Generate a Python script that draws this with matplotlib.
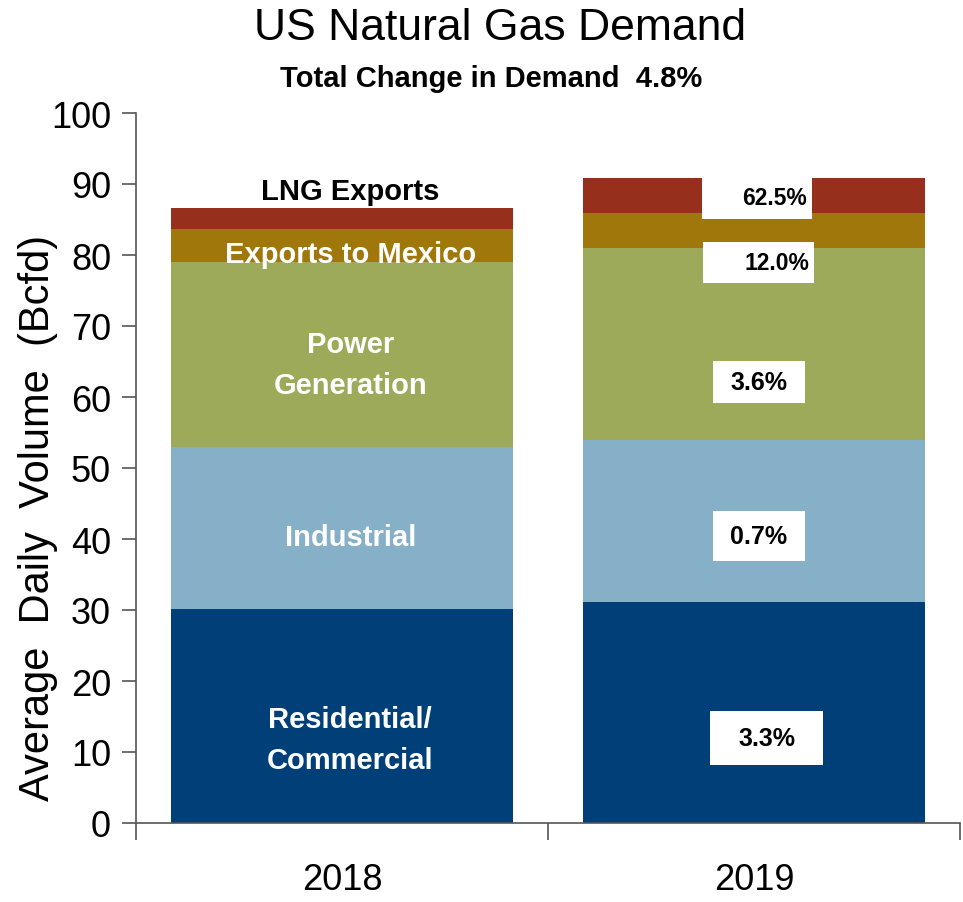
import matplotlib
matplotlib.use("Agg")
import matplotlib.pyplot as plt
from matplotlib.patches import Rectangle
import numpy as np

years = ["2018", "2019"]
segments = ["Residential/\nCommercial", "Industrial", "Power\nGeneration", "Exports to Mexico", "LNG Exports"]
residential = [30.1, 31.1]
industrial = [22.8, 22.9]
power = [26.1, 27.0]
mexico = [4.6, 4.9]
lng = [3.0, 4.9]
pct_change = ["3.3%", "0.7%", "3.6%", "12.0%", "62.5%"]
total_change = "4.8%"
yticks = list(range(0, 101, 10))

colors = ["#003F78", "#85B0C8", "#9DAA5A", "#A0770B", "#962F1C"]
FONT = ["Liberation Sans", "DejaVu Sans"]
plt.rcParams["font.family"] = FONT

fig = plt.figure(figsize=(9.63, 9.03), dpi=100)
ax = fig.add_axes([136/963, 1-824/903, (960-136)/963, (824-114)/903])

x = np.arange(len(years))
series = [residential, industrial, power, mexico, lng]
bottom = np.zeros(len(years))
for vals, c in zip(series, colors):
    ax.bar(x, vals, bottom=bottom, width=0.83, color=c, edgecolor="none", zorder=2)
    bottom = bottom + np.array(vals)

ax.set_xlim(-0.5, 1.5)
ax.set_ylim(0, 100)
ax.set_yticks(yticks)
ax.set_yticklabels([str(t) for t in yticks], fontsize=26)
ax.set_xticks([-0.5, 0.5, 1.5])
ax.set_xticklabels([])
ax.set_xticks(x, minor=True)
ax.set_xticklabels(years, minor=True, fontsize=26)
ax.tick_params(axis="x", which="minor", length=0, pad=28)
ax.tick_params(axis="x", which="major", length=12, width=1.2, color="#555555", direction="out")
ax.tick_params(axis="y", length=10, width=1.2, color="#555555", pad=8)
for s in ["top", "right"]:
    ax.spines[s].set_visible(False)
for s in ["left", "bottom"]:
    ax.spines[s].set_color("#555555")
    ax.spines[s].set_linewidth(1.2)

fig.text(38/963, 1-518/903, "Average  Daily  Volume  (Bcfd)", rotation=90, ha="center", va="center",
         fontsize=30)

fig.text(500/963, 1-29/903, "US Natural Gas Demand", ha="center", va="center", fontsize=32)
fig.text(491/963, 1-79/903, "Total Change in Demand  " + total_change, ha="center", va="center",
         fontsize=21, fontweight="bold")

# 2018 segment labels
seg_label_y = [11.8, 40.3, 64.6, 80.1, 89.0]
seg_label_col = ["white", "white", "white", "white", "black"]
for lbl, yy, col in zip(segments, seg_label_y, seg_label_col):
    ax.text(0.02, yy, lbl, ha="center", va="center", color=col,
            fontsize=21, fontweight="bold", linespacing=1.6, zorder=4)

# 2019 percent-change boxes (x0, x1, y0, y1) and text positions
boxes = [(0.893, 1.167, 8.2, 15.8), (0.9, 1.124, 36.9, 43.9), (0.9, 1.124, 59.1, 65.1),
         (0.876, 1.146, 76.1, 81.9), (0.874, 1.141, 85.1, 91.0)]
text_x = [1.032, 1.012, 1.012, 1.056, 1.049]
sizes = [18, 18, 18, 16.5, 16.5]
for p, (x0, x1, y0, y1), tx, fs in zip(pct_change, boxes, text_x, sizes):
    ax.add_patch(Rectangle((x0, y0), x1-x0, y1-y0, facecolor="white", edgecolor="none", zorder=3))
    ax.text(tx, (y0+y1)/2, p, ha="center", va="center", fontsize=fs,
            fontweight="bold", color="black", zorder=4)

fig.savefig("out.png", dpi=100)
